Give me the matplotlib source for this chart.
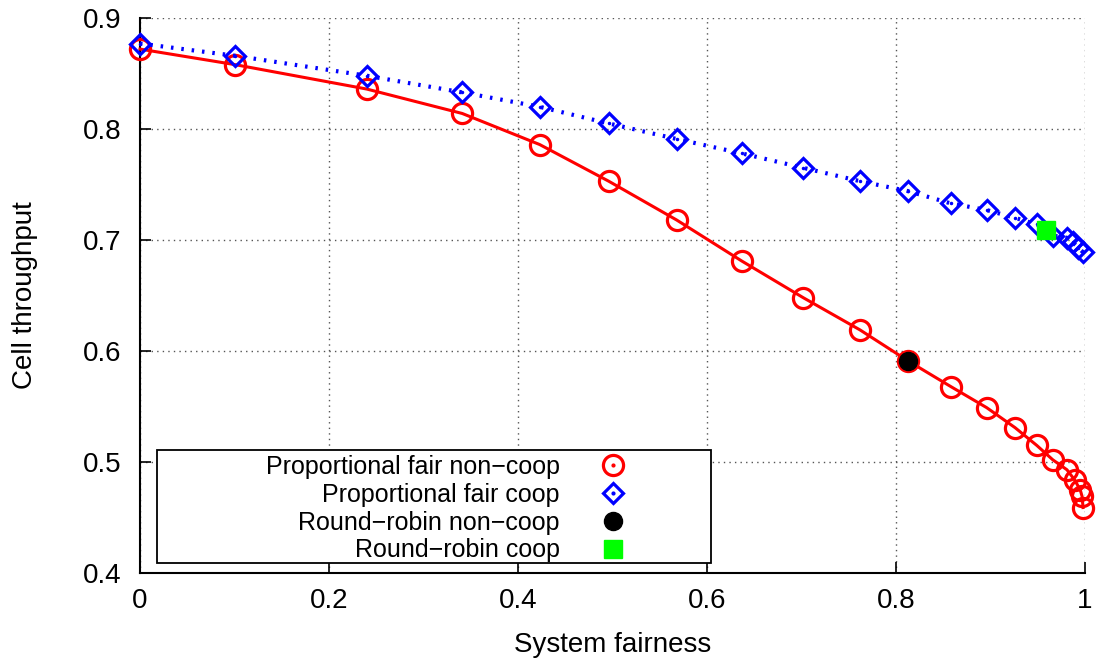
import matplotlib
matplotlib.use("Agg")
import matplotlib.pyplot as plt
from matplotlib.lines import Line2D
from matplotlib.patches import Rectangle
from matplotlib.legend_handler import HandlerTuple

plt.rcParams['font.family'] = ['Liberation Sans', 'DejaVu Sans']

pf_noncoop_x = [0.0, 0.1005, 0.240, 0.341, 0.423, 0.496, 0.568, 0.637, 0.702, 0.762, 0.813,
                0.858, 0.896, 0.926, 0.949, 0.966, 0.981, 0.989, 0.995, 0.997, 0.998]
pf_noncoop_y = [0.872, 0.858, 0.836, 0.814, 0.786, 0.753, 0.718, 0.681, 0.648, 0.619, 0.591,
                0.568, 0.549, 0.531, 0.515, 0.502, 0.493, 0.484, 0.475, 0.469, 0.459]

pf_coop_x = [0.0, 0.1005, 0.240, 0.341, 0.423, 0.496, 0.568, 0.637, 0.702, 0.762, 0.813,
             0.858, 0.896, 0.926, 0.949, 0.966, 0.981, 0.987, 0.993, 0.998]
pf_coop_y = [0.877, 0.866, 0.848, 0.833, 0.820, 0.805, 0.791, 0.778, 0.765, 0.753, 0.744,
             0.733, 0.727, 0.720, 0.714, 0.704, 0.702, 0.698, 0.693, 0.689]

rr_noncoop = (0.813, 0.591)
rr_coop = (0.959, 0.709)

labels = ["Proportional fair non\u2212coop", "Proportional fair coop",
          "Round\u2212robin non\u2212coop", "Round\u2212robin coop"]

FS = 20
LFS = 18
fig = plt.figure(figsize=(10.97, 6.62), dpi=100)
ax = fig.add_axes([0.1276, 0.1344, 0.8614, 0.8384])

ax.plot(pf_noncoop_x, pf_noncoop_y, color='red', lw=2.2, ls='-',
        marker='o', ms=14.5, mfc='none', mec='red', mew=2.3, zorder=3, clip_on=False)
ax.plot(pf_coop_x, pf_coop_y, color='blue', lw=3, ls=(0, (0.6, 1.9)),
        marker='D', ms=10.5, mfc='none', mec='blue', mew=2.3, zorder=4, clip_on=False)
ax.plot(pf_coop_x, pf_coop_y, ls='none', marker='.', ms=3, color='blue', zorder=4, clip_on=False)
ax.plot([rr_noncoop[0]], [rr_noncoop[1]], ls='none', marker='o', ms=13, color='black', zorder=5)
ax.plot([rr_coop[0]], [rr_coop[1]], ls='none', marker='s', ms=13, color='#00ff00', zorder=5)

ax.set_xlim(0, 1)
ax.set_ylim(0.4, 0.9)
ax.set_xticks([0, 0.2, 0.4, 0.6, 0.8, 1])
ax.set_xticklabels(['0', '0.2', '0.4', '0.6', '0.8', '1'])
ax.set_yticks([0.4, 0.5, 0.6, 0.7, 0.8, 0.9])
ax.set_yticklabels(['0.4', '0.5', '0.6', '0.7', '0.8', '0.9'])
ax.tick_params(direction='in', length=8, width=1.2, labelsize=FS)
ax.tick_params(axis='x', pad=11)
ax.tick_params(axis='y', pad=13.5)
ax.grid(True, color='#555555', ls=(0, (1, 3)), lw=1)
ax.spines['top'].set_visible(False)
ax.spines['right'].set_visible(False)
ax.spines['left'].set_linewidth(1.5)
ax.spines['bottom'].set_linewidth(1.5)
ax.set_xlabel('System fairness', fontsize=FS, labelpad=13)
ax.set_ylabel('Cell throughput', fontsize=FS, labelpad=32)

# legend frame
frame = Rectangle((0.018, 0.018), 0.586, 0.2036, transform=ax.transAxes,
                  facecolor='white', edgecolor='black', lw=1.3, zorder=9, clip_on=False)
ax.add_patch(frame)

h1 = (Line2D([], [], ls='none', marker='o', ms=14.5, mfc='none', mec='red', mew=2.3),
      Line2D([], [], ls='none', marker='.', ms=4, color='red'))
h2 = (Line2D([], [], ls='none', marker='D', ms=10.5, mfc='none', mec='blue', mew=2.3),
      Line2D([], [], ls='none', marker='.', ms=4, color='blue'))
h3 = Line2D([], [], ls='none', marker='o', ms=13, color='black')
h4 = Line2D([], [], ls='none', marker='s', ms=13, color='#00ff00')
leg = ax.legend([h1, h2, h3, h4], labels, loc='center right',
                bbox_to_anchor=(0.527, 0.1160),
                markerfirst=False, fontsize=LFS, frameon=False,
                borderpad=0, labelspacing=0.15,
                handletextpad=1.12, handlelength=2, borderaxespad=0,
                handler_map={tuple: HandlerTuple(ndivide=1, pad=0)})
leg.set_zorder(10)

fig.savefig('out.png', dpi=100)
